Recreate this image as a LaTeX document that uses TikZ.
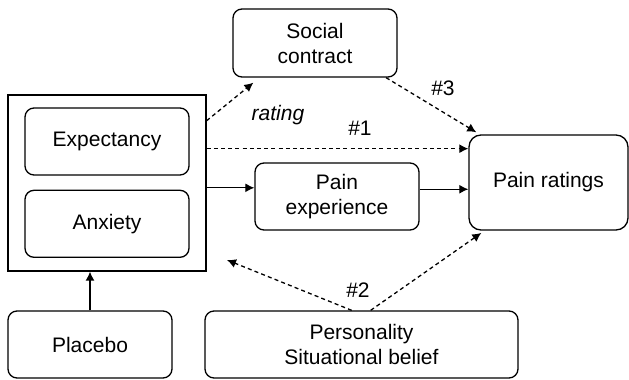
\documentclass[tikz,border=0pt]{standalone}
\usepackage{fontspec}
\setmainfont{Liberation Sans}
\usetikzlibrary{arrows.meta, positioning}
\tikzstyle{block} = [rectangle, rounded corners=4.5pt, minimum width=82pt, minimum height=33.5pt, text centered, align=center, draw=black, line width=0.65pt]
\tikzstyle{frame} = [rectangle, minimum width=99pt, minimum height=88pt, draw=black, line width=0.65pt]
\tikzstyle{arrow} = [line width=0.65pt,->,>={Latex[length=4.5pt,width=4.5pt]}]
\tikzstyle{dasharrow} = [arrow, dash pattern=on 2pt off 1.6pt]

\begin{document}
\begin{tikzpicture}[x=0.5pt, y=-0.5pt, node distance=7pt, font=\fontsize{10.5}{12.5}\selectfont]
\useasboundingbox (0,0) rectangle (629,380);
\node (state) [frame] at (107,183) {};
\node (expect) [block] at (107,141.5) {Expectancy};
\node (anx) [block, below=of expect] {Anxiety};
\node (social) [block, minimum height=34pt] at (315,43) {Social\\contract};
\node (painexp) [block] at (337,196.5) {Pain\\experience};
\node (ratings) [block, minimum width=79.5pt, minimum height=47.5pt, rounded corners=6pt] at (548.5,182.5) {Pain ratings};
\node (placebo) [block] at (90,344.5) {Placebo};
\node (person) [block, minimum width=156.5pt] at (361.5,344.5) {Personality\\Situational belief};
\coordinate (back) at (227,260);
% labels
\node (ratinglbl) at (278,115) {\itshape rating};
\node (one) at (360,128) {\#1};
\node (two) at (358,290) {\#2};
\node (three) at (443,88) {\#3};
% connectors
\draw [dasharrow, shorten >=4pt] (state.32) -- (social.212);
\draw [dasharrow] (state.19.5) -- (state.19.5 -| ratings.west);
\draw [dasharrow, shorten >=2pt] (social.-26) -- (ratings.145);
\draw [arrow] (painexp.174.8 -| state.east) -- (painexp.174.8);
\draw [arrow] (painexp.5.2) -- (painexp.5.2 -| ratings.west);
\draw [arrow] (placebo) -- (placebo |- state.south);
\draw [dasharrow] (person.106.6) -- (back);
\draw [dasharrow, shorten >=2pt] (person.75.8) -- (ratings.217);
\end{tikzpicture}
\end{document}
